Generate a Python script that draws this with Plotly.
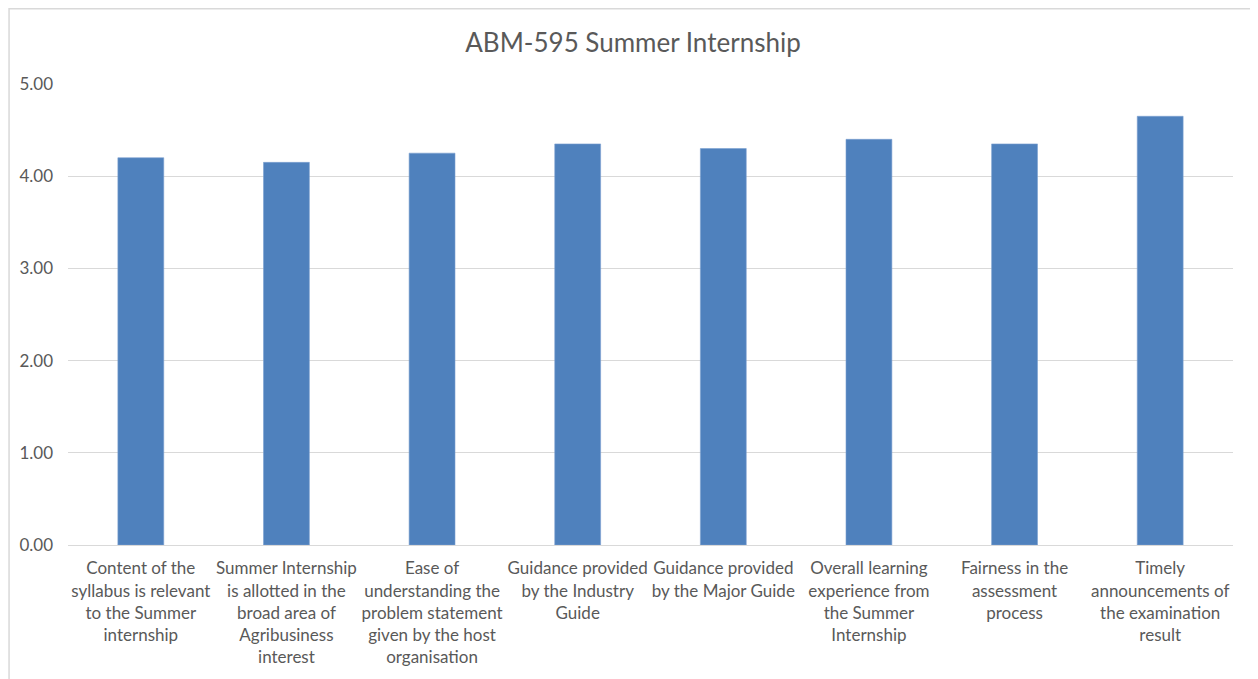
import plotly.graph_objects as go

# Survey items (x categories) and mean scores
categories = [
    "Content of the<br>syllabus is relevant<br>to the Summer<br>internship",
    "Summer Internship<br>is allotted in the<br>broad area of<br>Agribusiness<br>interest",
    "Ease of<br>understanding the<br>problem statement<br>given by the host<br>organisation",
    "Guidance provided<br>by the Industry<br>Guide",
    "Guidance provided<br>by the Major Guide",
    "Overall learning<br>experience from<br>the Summer<br>Internship",
    "Fairness in the<br>assessment<br>process",
    "Timely<br>announcements of<br>the examination<br>result",
]
scores = [4.20, 4.15, 4.25, 4.35, 4.30, 4.40, 4.35, 4.65]
y_ticks = [0, 1, 2, 3, 4, 5]

BAR_COLOR = "#4f81bd"
TEXT_COLOR = "#595959"
GRID_COLOR = "#d9d9d9"
FONT = "Lato, 'Open Sans', sans-serif"

fig = go.Figure(
    go.Bar(
        x=categories,
        y=scores,
        marker=dict(color=BAR_COLOR, line=dict(color="#7a9fd0", width=0.6)),
    )
)

# page body adds ~8px margin, so the figure is a bit smaller than the window
fig.update_layout(
    width=1250,
    height=671,
    margin=dict(l=60, r=25, t=76, b=134),
    paper_bgcolor="white",
    plot_bgcolor="white",
    bargap=0.685,
    showlegend=False,
    font=dict(family=FONT, color=TEXT_COLOR, size=17),
    title=dict(
        text="ABM-595 Summer Internship",
        x=0.5,
        xanchor="center",
        y=0.948,
        yanchor="middle",
        font=dict(size=26, color=TEXT_COLOR, family=FONT),
    ),
)

fig.update_yaxes(
    range=[0, 5],
    tickvals=y_ticks,
    tickformat=".2f",
    showgrid=True,
    gridcolor=GRID_COLOR,
    gridwidth=1,
    zeroline=False,
    showline=False,
    ticks="",
    ticklabelstandoff=14,
    tickfont=dict(size=17, color=TEXT_COLOR),
)

fig.update_xaxes(
    showline=True,
    linecolor=GRID_COLOR,
    linewidth=1,
    ticks="",
    tickangle=0,
    ticklabelstandoff=8,
    tickfont=dict(size=17, color=TEXT_COLOR),
)

# outer chart frame
fig.add_shape(
    type="rect",
    xref="paper",
    yref="paper",
    x0=-0.0506,
    x1=1.0189,
    y0=-0.35,
    y1=1.163,
    line=dict(color="#d9d9d9", width=1.5),
    fillcolor="rgba(0,0,0,0)",
    layer="below",
)

fig.write_html("out.html")
